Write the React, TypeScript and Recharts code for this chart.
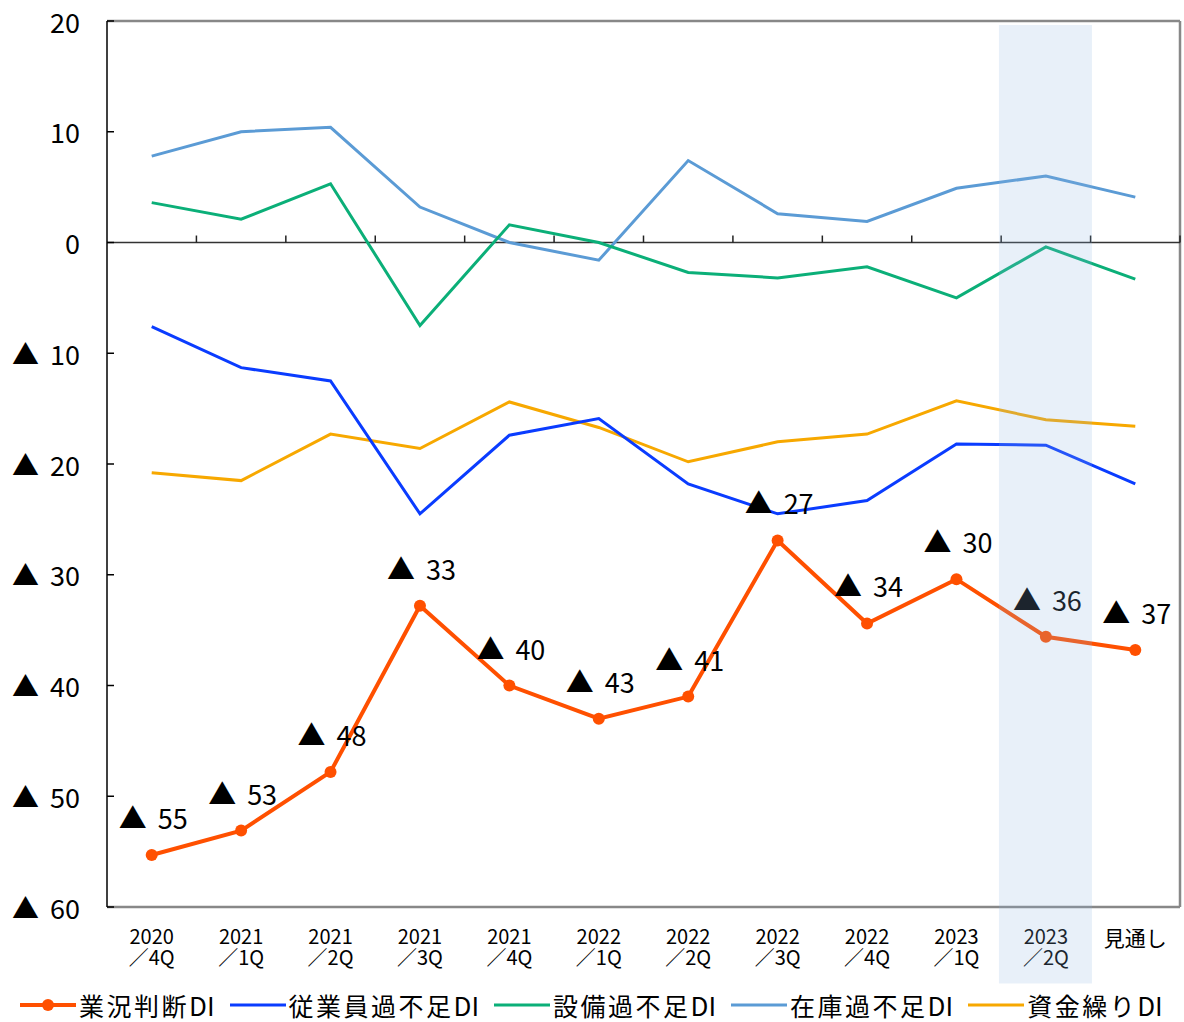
import React from 'react';
import { LineChart, Line, XAxis, YAxis, ReferenceLine, ReferenceArea, Legend, LabelList } from 'recharts';

const categories = ['2020/4Q','2021/1Q','2021/2Q','2021/3Q','2021/4Q','2022/1Q','2022/2Q','2022/3Q','2022/4Q','2023/1Q','2023/2Q','見通し'];
const catLine1 = ['2020','2021','2021','2021','2021','2022','2022','2022','2022','2023','2023','見通し'];
const catLine2 = ['／4Q','／1Q','／2Q','／3Q','／4Q','／1Q','／2Q','／3Q','／4Q','／1Q','／2Q',''];

const gyokyo = [-55.3, -53.1, -47.8, -32.8, -40.0, -43.0, -41.0, -26.9, -34.4, -30.4, -35.6, -36.8];
const jugyoin = [-7.6, -11.3, -12.5, -24.5, -17.4, -15.9, -21.8, -24.5, -23.3, -18.2, -18.3, -21.8];
const setsubi = [3.6, 2.1, 5.3, -7.5, 1.6, 0.0, -2.7, -3.2, -2.2, -5.0, -0.4, -3.3];
const zaiko = [7.8, 10.0, 10.4, 3.2, 0.0, -1.6, 7.4, 2.6, 1.9, 4.9, 6.0, 4.1];
const shikin = [-20.8, -21.5, -17.3, -18.6, -14.4, -16.7, -19.8, -18.0, -17.3, -14.3, -16.0, -16.6];

const yTicks = [-60, -50, -40, -30, -20, -10, 0, 10, 20];
const highlightCategory = '2023/2Q';

const series = [
  { key: 'gyokyo', name: '業況判断', suffix: 'DI', color: '#FF5000', width: 4, dot: true },
  { key: 'jugyoin', name: '従業員過不足', suffix: 'DI', color: '#0A3CFF', width: 3, dot: false },
  { key: 'setsubi', name: '設備過不足', suffix: 'DI', color: '#0BAF78', width: 3, dot: false },
  { key: 'zaiko', name: '在庫過不足', suffix: 'DI', color: '#5B9BD5', width: 3, dot: false },
  { key: 'shikin', name: '資金繰り', suffix: 'DI', color: '#F7A800', width: 3, dot: false },
];

const data = categories.map((c, i) => ({
  cat: c,
  x: i + 0.5,
  gyokyo: gyokyo[i],
  jugyoin: jugyoin[i],
  setsubi: setsubi[i],
  zaiko: zaiko[i],
  shikin: shikin[i],
}));

const xTicks = categories.map((_, i) => i + 0.5);
const boundaries = categories.map((_, i) => i + 1);
const hi = categories.indexOf(highlightCategory);

const FONT = "'Noto Sans CJK JP', 'Noto Sans', sans-serif";

const YTick = (props: any) => {
  const { x, y, payload } = props;
  const v = payload.value as number;
  return (
    <g>
      {v < 0 && (
        <text x={12} y={y} dominantBaseline="central" fontSize={27} fill="#000" fontFamily={FONT}>▲</text>
      )}
      <text x={x} y={y} textAnchor="end" dominantBaseline="central" fontSize={27} fill="#000" fontFamily={FONT}>
        {Math.abs(v)}
      </text>
    </g>
  );
};

const XTick = (props: any) => {
  const { x, y, payload } = props;
  const i = Math.floor(payload.value);
  const l1 = catLine1[i];
  const l2 = catLine2[i];
  if (!l2) {
    return (
      <text x={x} y={y + 30} textAnchor="middle" dominantBaseline="central" fontSize={21} fill="#000" fontFamily={FONT}>{l1}</text>
    );
  }
  return (
    <text x={x} y={y + 27.5} textAnchor="middle" dominantBaseline="central" fontSize={20} fill="#000" fontFamily={FONT}>
      <tspan x={x} dy={0}>{l1}</tspan>
      <tspan x={x} dy={21}>{l2}</tspan>
    </text>
  );
};

const renderDataLabel = (props: any) => {
  const { x, y, value } = props;
  return (
    <text x={x - 33} y={y - 38} dominantBaseline="central" fill="#000" fontFamily={FONT}>
      <tspan fontSize={28}>▲</tspan>
      <tspan x={x + 6} fontSize={27}>{Math.round(Math.abs(value))}</tspan>
    </text>
  );
};

const renderLegend = () => (
  <div
    style={{
      display: 'flex',
      alignItems: 'center',
      paddingLeft: 12,
      paddingTop: 6,
      height: 34,
      lineHeight: '32px',
      fontFamily: FONT,
      fontSize: 25,
      color: '#000',
      whiteSpace: 'nowrap',
    }}
  >
    {series.map((s) => (
      <div key={s.key} style={{ display: 'flex', alignItems: 'center', marginRight: 15 }}>
        <svg width={56} height={16} style={{ marginRight: 3 }}>
          <line x1={0} y1={8} x2={56} y2={8} stroke={s.color} strokeWidth={s.width} />
          {s.dot && <circle cx={28} cy={8} r={6} fill={s.color} />}
        </svg>
        <span style={{ letterSpacing: '2.5px' }}>{s.name}</span>
        <span style={{ fontSize: 26 }}>{s.suffix}</span>
      </div>
    ))}
  </div>
);

export default function App() {
  return (
    <div style={{ position: 'absolute', left: 0, top: 0, width: 1184, height: 1022, fontFamily: FONT, background: '#fff' }}>
      <LineChart
        width={1184}
        height={1022}
        data={data}
        margin={{ top: 21, right: 4, left: 8, bottom: 0 }}
        style={{ overflow: 'visible' }}
      >
        <XAxis
          dataKey="x"
          type="number"
          domain={[0, 12]}
          ticks={xTicks}
          interval={0}
          allowDataOverflow
          axisLine={{ stroke: '#888', strokeWidth: 2.5 }}
          tickLine={false}
          tickSize={0}
          tickMargin={0}
          height={75}
          tick={<XTick />}
        />
        <YAxis
          domain={[-60, 20]}
          ticks={yTicks}
          interval={0}
          width={99}
          allowDataOverflow
          axisLine={{ stroke: '#000', strokeWidth: 1.5 }}
          tickLine={{ stroke: '#000', strokeWidth: 1.5 }}
          tickSize={-7}
          tickMargin={34}
          tick={<YTick />}
        />
        <ReferenceLine y={20} stroke="#888" strokeWidth={2.5} ifOverflow="visible" />
        <ReferenceLine x={12} stroke="#888" strokeWidth={2.5} ifOverflow="visible" />
        <ReferenceLine y={0} stroke="#333" strokeWidth={1.5} />
        {boundaries.map((b) => (
          <ReferenceLine
            key={b}
            segment={[{ x: b, y: 0 }, { x: b, y: 0.63 }]}
            stroke="#222"
            strokeWidth={1.5}
            ifOverflow="visible"
          />
        ))}
        <Line dataKey="zaiko" name="在庫過不足DI" stroke="#5B9BD5" strokeWidth={3} dot={false} activeDot={false} isAnimationActive={false} />
        <Line dataKey="setsubi" name="設備過不足DI" stroke="#0BAF78" strokeWidth={3} dot={false} activeDot={false} isAnimationActive={false} />
        <Line dataKey="shikin" name="資金繰りDI" stroke="#F7A800" strokeWidth={3} dot={false} activeDot={false} isAnimationActive={false} />
        <Line dataKey="jugyoin" name="従業員過不足DI" stroke="#0A3CFF" strokeWidth={3} dot={false} activeDot={false} isAnimationActive={false} />
        <Line
          dataKey="gyokyo"
          name="業況判断DI"
          stroke="#FF5000"
          strokeWidth={4}
          dot={{ r: 6, fill: '#FF5000', stroke: '#FF5000', strokeWidth: 0 }}
          activeDot={false}
          isAnimationActive={false}
        >
          <LabelList dataKey="gyokyo" content={renderDataLabel} />
        </Line>
        <Legend verticalAlign="bottom" height={40} content={renderLegend} />
        <ReferenceArea
          x1={hi - 0.025}
          x2={hi + 1.015}
          y1={-66.9}
          y2={19.64}
          fill="#8DB4E2"
          fillOpacity={0.2}
          stroke="none"
          ifOverflow="visible"
          zIndex={3000}
        />
      </LineChart>
    </div>
  );
}
